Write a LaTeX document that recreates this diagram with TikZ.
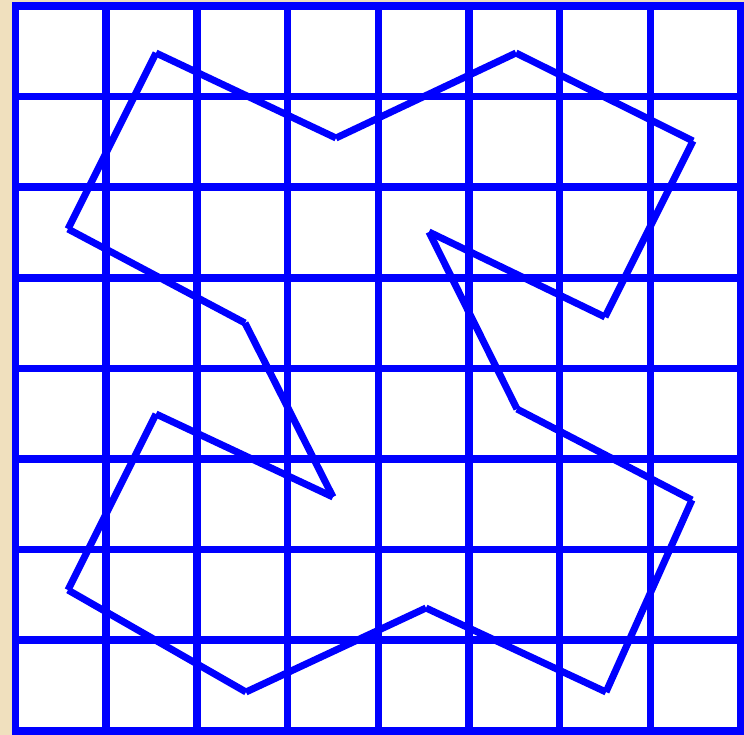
\documentclass[tikz,border=0pt]{standalone}
\usetikzlibrary{calc}
\definecolor{paper}{RGB}{240,224,190}
\definecolor{gridblue}{RGB}{0,0,255}
\tikzset{
  gridline/.style={draw=gridblue, line width=7.5pt, line cap=rect},
  edge/.style={draw=gridblue, line width=7pt, line cap=butt}
}
\begin{document}
\begin{tikzpicture}[x=1pt,y=-1pt]
  \useasboundingbox (0,0) rectangle (744,735);
  \fill[paper] (0,0) rectangle (744,735);
  \fill[white] (15.5,6) rectangle (741,730.8);
  % grid
  \foreach \k in {0,...,8} {
    \draw[gridline] ({15.5+90.69*\k},6) -- ({15.5+90.69*\k},730.8);
    \draw[gridline] (15.5,{6+90.6*\k}) -- (741,{6+90.6*\k});
  }
  % polygon vertices
  \coordinate (p1) at (156,53);
  \coordinate (p2) at (336,138);
  \coordinate (p3) at (516,53);
  \coordinate (p4) at (693,141);
  \coordinate (p5) at (605,317);
  \coordinate (p6) at (429,232);
  \coordinate (p7) at (517,409);
  \coordinate (p8) at (692,500);
  \coordinate (p9) at (606,692);
  \coordinate (p10) at (426,608);
  \coordinate (p11) at (246,692);
  \coordinate (p12) at (68,590);
  \coordinate (p13) at (156,414);
  \coordinate (p14) at (333,497);
  \coordinate (p15) at (245,323);
  \coordinate (p16) at (68,229);
  \foreach \a/\b in {p1/p2,p2/p3,p3/p4,p4/p5,p5/p6,p6/p7,p7/p8,p8/p9,p9/p10,p10/p11,p11/p12,p12/p13,p13/p14,p14/p15,p15/p16,p16/p1}
    \draw[edge] (\a) -- (\b);
\end{tikzpicture}
\end{document}
